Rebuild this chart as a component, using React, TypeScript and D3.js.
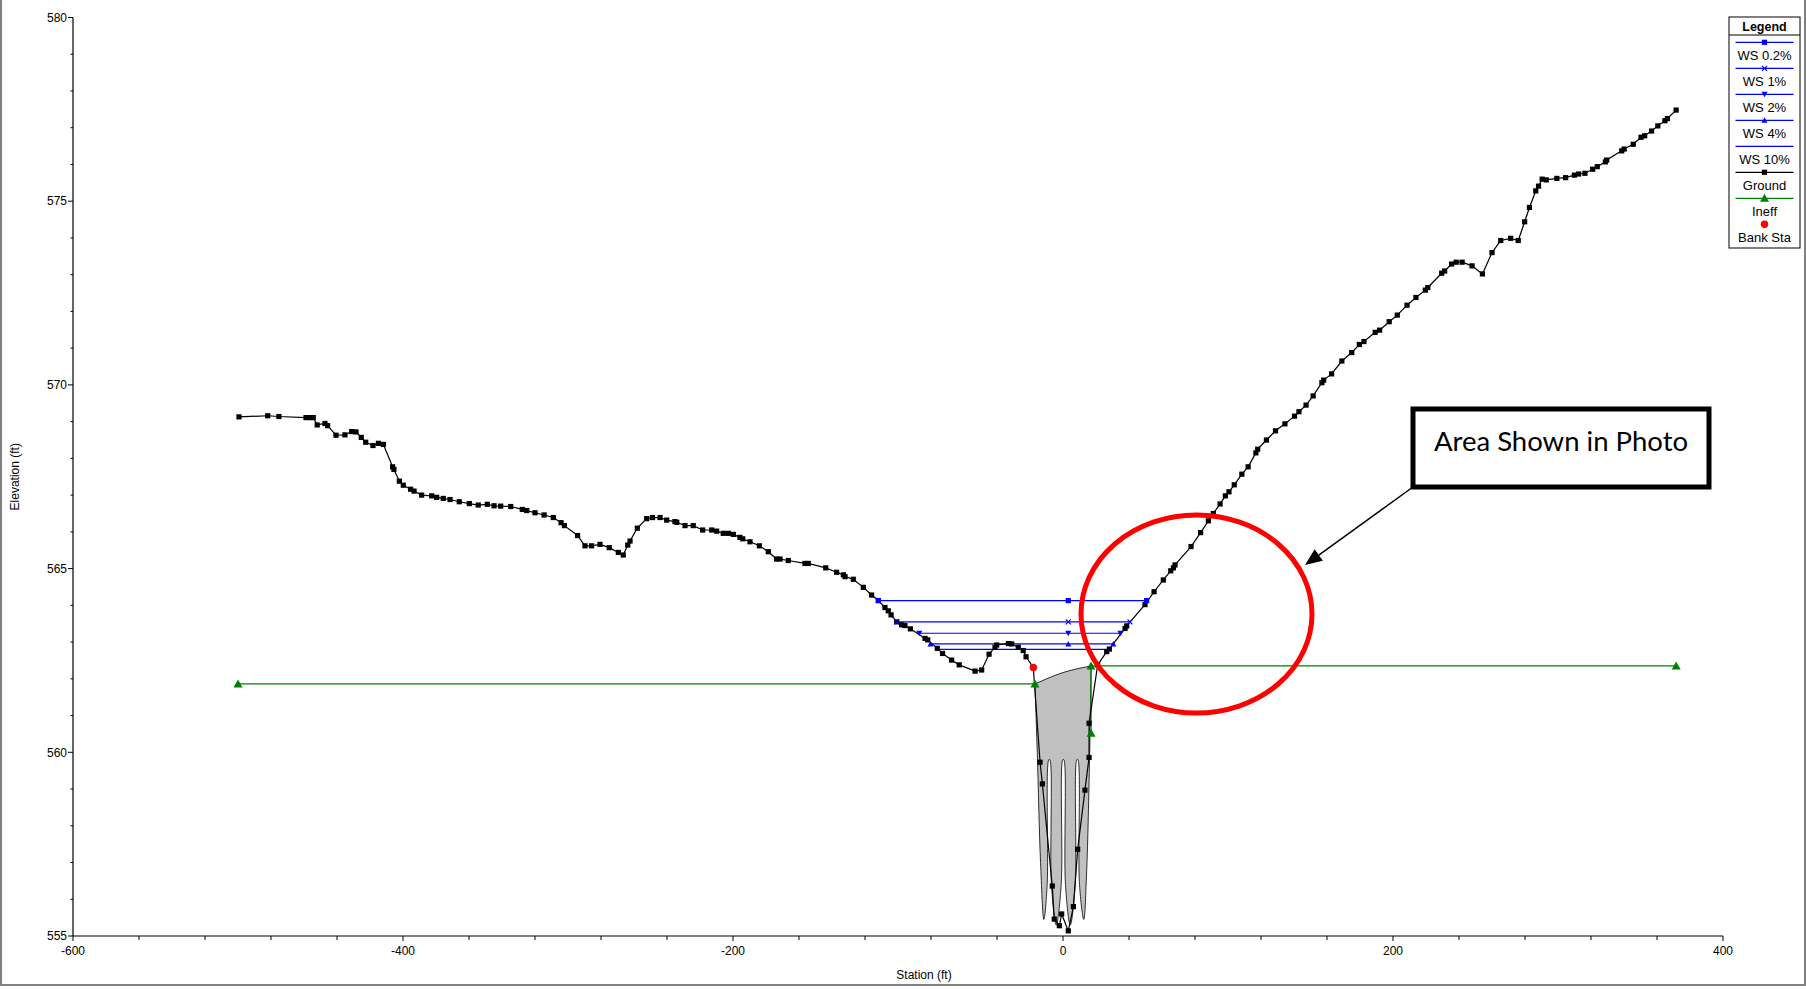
import React from "react";
import * as d3 from "d3";

// ---------- DATA ----------
const groundPts: [number, number][] = [
  [-499.4, 569.13], [-482.0, 569.16], [-475.2, 569.14], [-458.8, 569.11], [-456.4, 569.11], [-454.4, 569.11],
  [-452.0, 568.91], [-447.3, 568.95], [-445.7, 568.89], [-440.6, 568.63], [-435.2, 568.64], [-431.1, 568.73],
  [-428.5, 568.72], [-425.3, 568.57], [-422.6, 568.44], [-418.2, 568.35], [-414.9, 568.41], [-411.9, 568.38],
  [-406.3, 567.77], [-405.5, 567.70], [-402.2, 567.38], [-399.8, 567.27], [-395.4, 567.16], [-393.3, 567.11],
  [-388.7, 567.0], [-382.6, 566.98], [-379.6, 566.94], [-375.6, 566.91], [-371.5, 566.88], [-365.9, 566.82],
  [-359.8, 566.77], [-354.4, 566.73], [-348.9, 566.75], [-344.8, 566.71], [-340.8, 566.70], [-334.7, 566.69],
  [-327.7, 566.61], [-325.0, 566.58], [-320.0, 566.52], [-314.5, 566.46], [-308.9, 566.39], [-304.2, 566.25],
  [-302.2, 566.17], [-294.2, 565.90], [-289.7, 565.62], [-285.7, 565.62], [-280.6, 565.66], [-275.0, 565.57],
  [-269.5, 565.44], [-266.5, 565.37], [-263.8, 565.64], [-262.4, 565.75], [-258.0, 566.10], [-252.3, 566.36],
  [-248.8, 566.39], [-244.2, 566.39], [-240.2, 566.32], [-235.2, 566.28], [-234.1, 566.26], [-229.1, 566.17],
  [-224.1, 566.17], [-218.4, 566.05], [-212.9, 566.05], [-209.9, 566.02], [-205.9, 565.96], [-202.8, 565.96],
  [-199.8, 565.93], [-195.8, 565.85], [-194.1, 565.81], [-189.7, 565.73], [-184.0, 565.62], [-178.6, 565.46],
  [-173.6, 565.26], [-171.5, 565.26], [-166.5, 565.22], [-156.4, 565.14], [-154.4, 565.14], [-143.8, 565.02],
  [-137.2, 564.90], [-133.1, 564.83], [-132.1, 564.78], [-127.1, 564.71], [-121.0, 564.49], [-116.0, 564.28],
  [-111.9, 564.13], [-107.9, 563.94], [-105.9, 563.85], [-104.2, 563.74], [-100.8, 563.55], [-97.8, 563.47],
  [-95.8, 563.45], [-92.5, 563.36], [-83.6, 563.10], [-82.0, 563.06], [-76.2, 562.83], [-73.0, 562.69],
  [-67.5, 562.51], [-62.9, 562.38], [-53.3, 562.21], [-49.3, 562.24], [-44.8, 562.67], [-41.2, 562.86],
  [-40.2, 562.92], [-33.1, 562.96], [-31.1, 562.95], [-27.1, 562.86], [-24.1, 562.77], [-22.4, 562.60],
  [-18.0, 562.31], [-13.9, 559.73], [-12.5, 559.14], [-6.5, 556.36], [-5.3, 555.46], [-2.2, 555.28],
  [-0.8, 555.60], [3.2, 555.14], [6.3, 555.80], [8.9, 557.36], [13.3, 558.97], [15.8, 559.86],
  [15.8, 560.79], [21.0, 562.38], [26.5, 562.74], [28.1, 562.81], [37.6, 563.37], [38.6, 563.44],
  [49.7, 564.02], [55.2, 564.37], [60.8, 564.69], [65.3, 564.94], [66.9, 565.02], [67.9, 565.10],
  [77.6, 565.60], [83.4, 565.98], [88.1, 566.30], [91.1, 566.50], [95.2, 566.76], [98.4, 566.98],
  [100.6, 567.09], [103.8, 567.28], [108.4, 567.57], [112.2, 567.77], [116.9, 568.15], [118.0, 568.25],
  [123.3, 568.50], [128.8, 568.75], [134.5, 568.94], [140.3, 569.15], [143.0, 569.27], [147.3, 569.45],
  [151.6, 569.70], [156.9, 570.06], [158.0, 570.13], [162.8, 570.30], [169.0, 570.65], [175.0, 570.88],
  [179.6, 571.10], [182.4, 571.18], [189.2, 571.43], [191.9, 571.49], [197.7, 571.72], [202.6, 571.90],
  [208.5, 572.17], [213.9, 572.38], [219.6, 572.58], [221.1, 572.65], [229.5, 573.04], [231.3, 573.10],
  [235.5, 573.29], [238.3, 573.34], [241.9, 573.34], [247.9, 573.24], [254.2, 573.02], [260.0, 573.60],
  [265.3, 573.93], [271.3, 573.99], [275.9, 573.93], [279.8, 574.44], [282.7, 574.83], [286.5, 575.28],
  [288.2, 575.41], [290.4, 575.60], [292.9, 575.58], [299.3, 575.62], [304.6, 575.64], [309.9, 575.71],
  [312.5, 575.74], [316.3, 575.76], [321.0, 575.87], [323.8, 575.94], [328.7, 576.07], [329.5, 576.12],
  [338.6, 576.37], [340.1, 576.42], [345.6, 576.55], [350.3, 576.74], [352.5, 576.78], [356.7, 576.91],
  [360.5, 577.05], [364.8, 577.19], [366.3, 577.25], [371.6, 577.48],
];

// water surfaces
const wsNames = ["WS 0.2%", "WS 1%", "WS 2%", "WS 4%", "WS 10%"];
const wsElev = [564.13, 563.55, 563.24, 562.95, 562.80];
const wsLeft = [-111.9, -100.8, -87.1, -80.3, -76.0];
const wsRight = [50.7, 40.6, 34.8, 30.5, 28.5];
const wsCenter = 3.2;
const wsMarker = ["square", "cross", "down", "up", "none"];

// ineffective flow
const ineffLeft: [number, number][] = [[-500, 561.86], [-17, 561.86]];
const ineffRight: [number, number][] = [[17, 560.52], [17, 562.35], [371.6, 562.35]];

// bank station
const bankSta: [number, number][] = [[-18.0, 562.31]];

// channel fill (top arc and wavy lower outline)
const fillTop: [number, number][] = [[-17, 561.86], [0, 562.17], [17, 562.35]];
const fillWave: [number, number][] = [
  [17, 562.35], [16.0, 559.6], [14.2, 556.6], [12.6, 555.45],
  [10.0, 556.4], [9.0, 559.8], [8.4, 559.8], [7.4, 556.4],
  [4.4, 555.3],
  [1.5, 556.4], [0.5, 559.8], [-0.1, 559.8], [-1.1, 556.4],
  [-4.1, 555.3],
  [-7.0, 556.4], [-8.0, 559.8], [-8.6, 559.8], [-9.6, 556.4],
  [-11.6, 555.45], [-13.6, 557.0], [-15.6, 560.0], [-17, 561.86],
];

// axes
const xMajor = [-600, -400, -200, 0, 200, 400];
const xMinor = d3.range(-600, 401, 40);
const yMajor = [555, 560, 565, 570, 575, 580];
const yMinor = d3.range(555, 581, 1);

const legendLabels = ["WS 0.2%", "WS 1%", "WS 2%", "WS 4%", "WS 10%", "Ground", "Ineff", "Bank Sta"];

// ---------- COMPONENT ----------
const W = 1806;
const H = 989;
const FONT = "'Liberation Sans', Arial, sans-serif";
const BLUE = "#0000ff";
const GREEN = "#008000";

function Marker({ kind, x, y, color }: { kind: string; x: number; y: number; color: string }) {
  if (kind === "square") return <rect x={x - 2.6} y={y - 2.6} width={5.2} height={5.2} fill={color} />;
  if (kind === "cross")
    return (
      <g stroke={color} strokeWidth={1.2}>
        <line x1={x - 2.5} y1={y - 2.5} x2={x + 2.5} y2={y + 2.5} />
        <line x1={x - 2.5} y1={y + 2.5} x2={x + 2.5} y2={y - 2.5} />
      </g>
    );
  if (kind === "down") return <path d={`M${x - 3},${y - 2.5}L${x + 3},${y - 2.5}L${x},${y + 3}Z`} fill={color} />;
  if (kind === "up") return <path d={`M${x - 3},${y + 2.5}L${x + 3},${y + 2.5}L${x},${y - 3}Z`} fill={color} />;
  if (kind === "tri") return <path d={`M${x - 4.5},${y + 3.5}L${x + 4.5},${y + 3.5}L${x},${y - 4.5}Z`} fill={color} />;
  if (kind === "dot") return <circle cx={x} cy={y} r={3.7} fill={color} />;
  return null;
}

export default function App() {
  const x = d3.scaleLinear().domain([-600, 400]).range([73, 1723]);
  const y = d3.scaleLinear().domain([555, 580]).range([936, 17.5]);
  const line = d3.line<[number, number]>().x((d) => x(d[0])).y((d) => y(d[1]));

  const topPath = d3
    .line<[number, number]>()
    .x((d) => x(d[0]))
    .y((d) => y(d[1]))
    .curve(d3.curveNatural)(fillTop) as string;
  const wavePath = d3
    .line<[number, number]>()
    .x((d) => x(d[0]))
    .y((d) => y(d[1]))
    .curve(d3.curveCatmullRom.alpha(0.5))(fillWave) as string;
  const fillPath = topPath + "L" + wavePath.slice(1) + "Z";

  const legendX0 = 1729;
  const legendX1 = 1800;
  const legendMid = 1764.5;
  const legendEntries = [
    { label: legendLabels[0], color: BLUE, marker: "square", line: true },
    { label: legendLabels[1], color: BLUE, marker: "cross", line: true },
    { label: legendLabels[2], color: BLUE, marker: "down", line: true },
    { label: legendLabels[3], color: BLUE, marker: "up", line: true },
    { label: legendLabels[4], color: BLUE, marker: "none", line: true },
    { label: legendLabels[5], color: "#000", marker: "square", line: true },
    { label: legendLabels[6], color: GREEN, marker: "tri", line: true },
    { label: legendLabels[7], color: "#ff0000", marker: "dot", line: false },
  ];

  // annotation geometry
  const boxX = 1413, boxY = 409, boxW = 296, boxH = 78;
  const tipX = 1305, tipY = 565;
  const ang = Math.atan2(tipY - (boxY + boxH), tipX - boxX);
  const ah = 17, aw = 7;
  const bx = tipX - ah * Math.cos(ang), by = tipY - ah * Math.sin(ang);
  const arrowHead = `M${tipX},${tipY}L${bx + aw * Math.sin(ang)},${by - aw * Math.cos(ang)}L${bx - aw * Math.sin(ang)},${by + aw * Math.cos(ang)}Z`;

  return (
    <svg
      width={W}
      height={H}
      style={{ position: "absolute", left: 0, top: 0, background: "#fff" }}
      fontFamily={FONT}
    >
      <rect x={0} y={0} width={W} height={H} fill="#fff" />
      {/* outer frame */}
      <rect x={1} y={-3} width={W - 2} height={H - 1} fill="none" stroke="#808080" strokeWidth={2} />

      {/* channel fill */}
      <path d={fillPath} fill="#c0c0c0" stroke="#000" strokeWidth={0.8} />

      {/* ineffective flow */}
      <path d={line(ineffLeft) as string} fill="none" stroke={GREEN} strokeWidth={1.2} />
      <path d={line(ineffRight) as string} fill="none" stroke={GREEN} strokeWidth={1.2} />

      {/* water surfaces */}
      {wsElev.map((e, i) => (
        <g key={wsNames[i]}>
          <line x1={x(wsLeft[i])} x2={x(wsRight[i])} y1={y(e)} y2={y(e)} stroke={BLUE} strokeWidth={1.2} />
        </g>
      ))}

      {/* ground */}
      <path d={line(groundPts) as string} fill="none" stroke="#000" strokeWidth={1.2} />
      {groundPts.map((d, i) => (
        <rect key={i} x={x(d[0]) - 2.6} y={y(d[1]) - 2.6} width={5.2} height={5.2} fill="#000" />
      ))}

      {/* ws markers */}
      {wsElev.map((e, i) =>
        [wsLeft[i], wsCenter, wsRight[i]].map((s, j) => (
          <Marker key={`${i}-${j}`} kind={wsMarker[i]} x={x(s)} y={y(e)} color={BLUE} />
        ))
      )}

      {/* ineff markers */}
      {[...ineffLeft, ...ineffRight].map((d, i) => (
        <Marker key={`in${i}`} kind="tri" x={x(d[0])} y={y(d[1])} color={GREEN} />
      ))}

      {/* bank stations */}
      {bankSta.map((d, i) => (
        <Marker key={`b${i}`} kind="dot" x={x(d[0])} y={y(d[1])} color="#ff0000" />
      ))}

      {/* axes */}
      <line x1={73} x2={73} y1={y(580)} y2={y(555)} stroke="#000" strokeWidth={1.2} />
      <line x1={73} x2={1723} y1={936} y2={936} stroke="#000" strokeWidth={1.2} />
      {yMinor.map((v) => (
        <line key={`ym${v}`} x1={73} x2={yMajor.includes(v) ? 68 : 70.5} y1={y(v)} y2={y(v)} stroke="#000" strokeWidth={1} />
      ))}
      {yMajor.map((v) => (
        <text key={`yl${v}`} x={67} y={y(v)} dy="0.35em" textAnchor="end" fontSize={12} fill="#000">
          {v}
        </text>
      ))}
      {xMinor.map((v) => (
        <line key={`xm${v}`} x1={x(v)} x2={x(v)} y1={936} y2={xMajor.includes(v) ? 941 : 940} stroke="#000" strokeWidth={1} />
      ))}
      {xMajor.map((v) => (
        <text key={`xl${v}`} x={x(v)} y={955} textAnchor="middle" fontSize={12} fill="#000">
          {v}
        </text>
      ))}
      <text x={924} y={979} textAnchor="middle" fontSize={12} fill="#000">
        Station (ft)
      </text>
      <text transform={`translate(19,${(y(580) + 936) / 2}) rotate(-90)`} textAnchor="middle" fontSize={12} fill="#000">
        Elevation (ft)
      </text>

      {/* legend */}
      <rect x={legendX0} y={17} width={legendX1 - legendX0} height={231} fill="#fff" stroke="#000" strokeWidth={1} />
      <text x={legendMid} y={30.5} textAnchor="middle" fontSize={12.5} fontWeight="bold" fill="#000">
        Legend
      </text>
      <line x1={legendX0} x2={legendX1} y1={35} y2={35} stroke="#000" strokeWidth={1} />
      {legendEntries.map((en, i) => {
        const ly = 42.3 + i * 26;
        return (
          <g key={en.label}>
            {en.line && <line x1={1735.5} x2={1793.5} y1={ly} y2={ly} stroke={en.color} strokeWidth={1.2} />}
            <Marker kind={en.marker} x={legendMid} y={ly} color={en.color} />
            <text x={legendMid} y={ly + 17.5} textAnchor="middle" fontSize={13} fill="#000">
              {en.label}
            </text>
          </g>
        );
      })}

      {/* annotation */}
      <ellipse cx={1196.5} cy={614} rx={115.5} ry={99} fill="none" stroke="#ff0000" strokeWidth={5} />
      <rect x={boxX} y={boxY} width={boxW} height={boxH} fill="#fff" stroke="#000" strokeWidth={5} />
      <text x={boxX + boxW / 2} y={451} textAnchor="middle" fontSize={27.5} fontFamily="Lato, 'Open Sans', sans-serif" fill="#000">
        Area Shown in Photo
      </text>
      <line x1={boxX} y1={boxY + boxH} x2={bx} y2={by} stroke="#000" strokeWidth={1.5} />
      <path d={arrowHead} fill="#000" />
    </svg>
  );
}
